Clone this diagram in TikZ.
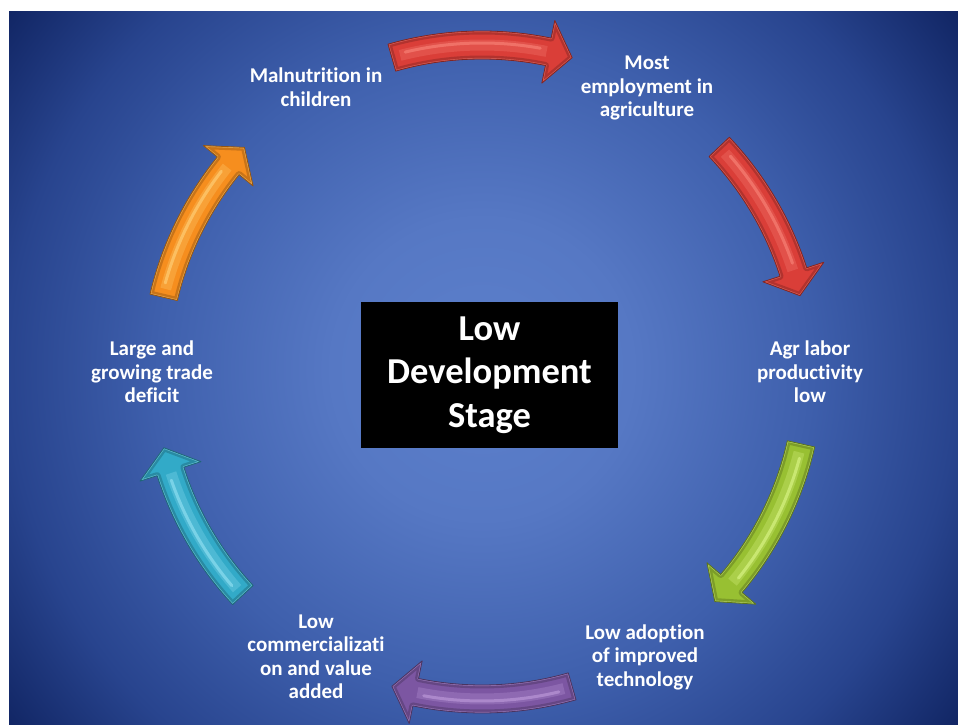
\documentclass[tikz,border=0pt]{standalone}
\usepackage{fontspec}
\setmainfont{Carlito}[Ligatures={NoCommon}]
\usetikzlibrary{calc}
\definecolor{bg0}{RGB}{92,128,204}
\definecolor{bg1}{RGB}{86,120,196}
\definecolor{bg2}{RGB}{62,95,172}
\definecolor{bg3}{RGB}{40,68,142}
\definecolor{bg4}{RGB}{16,36,98}
\pgfdeclareradialshading{bgshade}{\pgfpoint{0bp}{0bp}}{color(0bp)=(bg0); color(6.25bp)=(bg1); color(13.75bp)=(bg2); color(19.8bp)=(bg3); color(25bp)=(bg4); color(50bp)=(bg4)}
\definecolor{redA}{RGB}{218,62,56}
\definecolor{redL}{RGB}{246,128,116}
\definecolor{grnA}{RGB}{152,192,50}
\definecolor{grnL}{RGB}{215,242,130}
\definecolor{purA}{RGB}{124,86,162}
\definecolor{purL}{RGB}{185,150,215}
\definecolor{cyaA}{RGB}{50,170,200}
\definecolor{cyaL}{RGB}{140,222,240}
\definecolor{orgA}{RGB}{246,142,30}
\definecolor{orgL}{RGB}{255,205,115}
\tikzset{
  lbl/.style={text=white, align=center, inner sep=0pt, font=\bfseries\fontsize{21}{23.5}\selectfont},
  centrebox/.style={fill=black, text=white, align=center, minimum width=257pt, minimum height=146pt, inner sep=0pt, font=\bfseries\fontsize{36.5}{43.5}\selectfont}
}
% #1 tail angle, #2 tip angle, #3 base colour, #4 light colour
\newcommand\cycarrow[4]{%
  \pgfmathsetmacro\hb{#2+4.3}%
  \def\arrpath{($(O)+(#1:341pt)$) arc[start angle=#1, end angle=\hb, radius=341pt]
    -- ($(O)+(\hb:359pt)$) -- ($(O)+(#2:327pt)$) -- ($(O)+(\hb:295pt)$) -- ($(O)+(\hb:313pt)$)
    arc[start angle=\hb, end angle=#1, radius=313pt] -- cycle}%
  \begin{scope}[shift={(1.5pt,-3pt)}]
    \fill[black, opacity=0.35] \arrpath;
  \end{scope}
  \fill[#3] \arrpath;
  \begin{scope}
    \clip \arrpath;
    \draw[#3!60!black, line width=7pt, opacity=0.45, line join=round] \arrpath;
    \draw[#4, line width=2.2pt, opacity=0.55, line join=round, shift={(-1pt,1pt)}] \arrpath;
  \end{scope}
  \draw[#4, line width=11pt, opacity=0.3] ($(O)+(#1-1.5:327pt)$) arc[start angle=#1-1.5, end angle=\hb+0.3, radius=327pt];
  \draw[#4, line width=3pt, opacity=0.7, line cap=round] ($(O)+(#1-2.5:329pt)$) arc[start angle=#1-2.5, end angle=\hb+1.5, radius=329pt];
  \draw[#3!60!black, line width=0.8pt, line join=round] \arrpath;
}
\begin{document}
\begin{tikzpicture}[x=1pt, y=1pt]
\useasboundingbox (0,0) rectangle (958,725);
\begin{scope}
  \clip (9,0) rectangle (958,713);
  \shade[shading=bgshade] (-118,-244) rectangle (1082,956);
\end{scope}
\coordinate (O) at (482,353);
\cycarrow{106}{74}{redA}{redL}
\cycarrow{43.5}{13.5}{redA}{redL}
\cycarrow{-12.7}{-44.6}{grnA}{grnL}
\cycarrow{-74}{-106}{purA}{purL}
\cycarrow{-137}{-166.6}{cyaA}{cyaL}
\cycarrow{166.8}{136.6}{orgA}{orgL}
\node[centrebox] (stage) at (489.5,350) {Low\\Development\\Stage};
\node[lbl] (mal) at (316,638) {Malnutrition in\\children};
\node[lbl] (most) at (647,637) {Most\\employment in\\agriculture};
\node[lbl] (agr) at (810,353) {Agr labor\\productivity\\low};
\node[lbl] (adopt) at (645,68) {Low adoption\\of improved\\technology};
\node[lbl] (comm) at (316,68) {Low\\commercializati\\on and value\\added};
\node[lbl] (large) at (152,353) {Large and\\growing trade\\deficit};
\end{tikzpicture}
\end{document}
